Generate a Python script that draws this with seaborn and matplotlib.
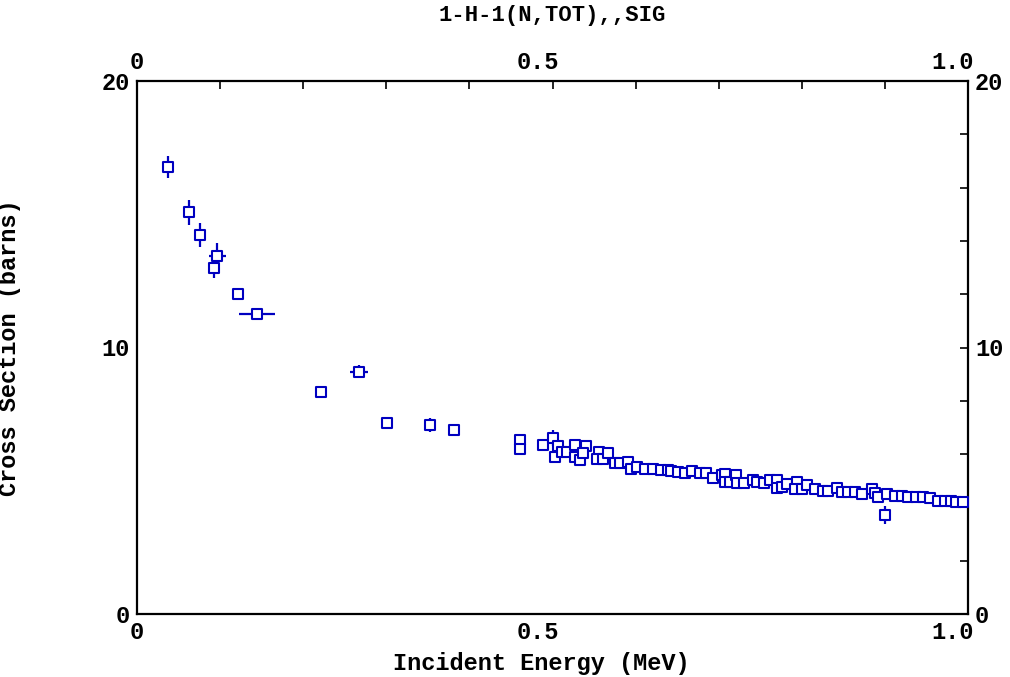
import numpy as np
import pandas as pd
import matplotlib
matplotlib.use("Agg")
import matplotlib.pyplot as plt
import matplotlib.transforms as mtransforms
import seaborn as sns

# ---- data ----
energy = [0.0377, 0.0626, 0.0762, 0.0967, 0.0923, 0.121, 0.144,
          0.2214, 0.267, 0.301, 0.352, 0.381,
          0.461, 0.461, 0.488, 0.501,
          0.507, 0.503, 0.512, 0.517, 0.527, 0.527, 0.533, 0.540, 0.537, 0.556,
          0.553, 0.561, 0.567, 0.575, 0.581, 0.591, 0.594, 0.602, 0.611, 0.621,
          0.631, 0.639, 0.643, 0.651, 0.659, 0.668, 0.677, 0.685, 0.693, 0.704,
          0.708, 0.708, 0.713, 0.721, 0.722, 0.731, 0.741, 0.746, 0.754, 0.762,
          0.770, 0.770, 0.776, 0.782, 0.794, 0.792, 0.800, 0.806, 0.816, 0.826,
          0.832, 0.842, 0.848, 0.856, 0.864, 0.873, 0.884, 0.888, 0.892, 0.900,
          0.902, 0.912, 0.920, 0.928, 0.938, 0.946, 0.954, 0.964, 0.972, 0.980,
          0.986, 0.994]
sigma = [16.78, 15.07, 14.22, 13.45, 13.00, 12.02, 11.25,
         8.32, 9.09, 7.18, 7.09, 6.90,
         6.53, 6.19, 6.34, 6.59,
         6.30, 5.90, 6.09, 6.07, 6.34, 5.90, 5.78, 6.30, 6.03, 6.07,
         5.80, 5.80, 6.03, 5.68, 5.68, 5.71, 5.43, 5.53, 5.43, 5.43,
         5.40, 5.40, 5.38, 5.32, 5.28, 5.38, 5.28, 5.28, 5.09, 5.22,
         5.25, 4.94, 4.94, 5.22, 4.90, 4.93, 5.03, 4.97, 4.90, 5.03,
         5.03, 4.72, 4.78, 4.88, 4.97, 4.68, 4.68, 4.84, 4.68, 4.61,
         4.63, 4.72, 4.59, 4.59, 4.59, 4.50, 4.68, 4.55, 4.40, 3.71,
         4.50, 4.43, 4.43, 4.40, 4.38, 4.38, 4.34, 4.25, 4.25, 4.25,
         4.21, 4.19]
d_energy = [0, 0, 0, 0.010, 0, 0, 0.0215,
            0, 0.011, 0, 0, 0,
            0, 0, 0.007, 0] + [0] * 72
d_sigma = [0.41, 0.47, 0.44, 0.46, 0.40, 0, 0,
           0, 0.24, 0, 0.27, 0,
           0.12, 0, 0, 0.30] + [0] * 59 + [0.34] + [0] * 12

x_ticks = [0, 0.5, 1.0]
x_tick_labels = ["0", "0.5", "1.0"]
y_ticks = [0, 10, 20]
y_tick_labels = ["0", "10", "20"]

df = pd.DataFrame({"E": energy, "sig": sigma, "dE": d_energy, "dsig": d_sigma})

# ---- style ----
sns.set_style("white")
plt.rcParams["font.family"] = ["Liberation Mono", "DejaVu Sans Mono"]
plt.rcParams["font.weight"] = "bold"
plt.rcParams["text.color"] = "black"
plt.rcParams["axes.labelcolor"] = "black"
plt.rcParams["xtick.color"] = "black"
plt.rcParams["ytick.color"] = "black"

blue = "#0000C0"
fig = plt.figure(figsize=(10.10, 6.77), dpi=100)
ax = fig.add_axes([137 / 1010, 1 - 614 / 677, (968 - 137) / 1010, (614 - 81) / 677])

ax.errorbar(df["E"], df["sig"], xerr=df["dE"], yerr=df["dsig"], fmt="none",
            ecolor=blue, elinewidth=1.6, capsize=0, zorder=2)
sns.scatterplot(data=df, x="E", y="sig", ax=ax, marker="s", s=46,
                facecolor="white", edgecolor=blue, linewidth=1.5, zorder=3,
                legend=False)

ax.set_xlim(0, 1.0)
ax.set_ylim(0, 20)
ax.set_xticks(x_ticks)
ax.set_xticklabels(x_tick_labels)
ax.set_yticks(y_ticks)
ax.set_yticklabels(y_tick_labels)
ax.set_xticks(np.arange(0, 1.0001, 0.1), minor=True)
ax.set_yticks(np.arange(0, 20.001, 2), minor=True)

for s in ax.spines.values():
    s.set_linewidth(1.6)
    s.set_color("black")

ax.tick_params(which="both", direction="in", top=True, right=True,
               labeltop=True, labelright=True, length=6, width=1.2,
               color="black", labelsize=17, pad=5)

shift = mtransforms.ScaledTranslation(-15 / 100, 0, fig.dpi_scale_trans)
for tick in ax.xaxis.get_major_ticks():
    for lab in (tick.label1, tick.label2):
        lab.set_fontweight("bold")
        if len(lab.get_text()) > 1:
            lab.set_transform(lab.get_transform() + shift)
for tick in ax.yaxis.get_major_ticks():
    tick.label1.set_fontweight("bold")
    tick.label2.set_fontweight("bold")

ax.set_xlabel("Incident Energy (MeV)", fontsize=17, fontweight="bold")
ax.xaxis.set_label_coords(0.486, -0.071)
ax.set_ylabel("Cross Section (barns)", fontsize=17, fontweight="bold")
ax.yaxis.set_label_coords(-0.139, 0.5)
fig.text(552 / 1010, 1 - 16 / 677, "1-H-1(N,TOT),,SIG", ha="center", va="center",
         fontsize=16, fontweight="bold")

fig.savefig("out.png", dpi=100, facecolor="white")
